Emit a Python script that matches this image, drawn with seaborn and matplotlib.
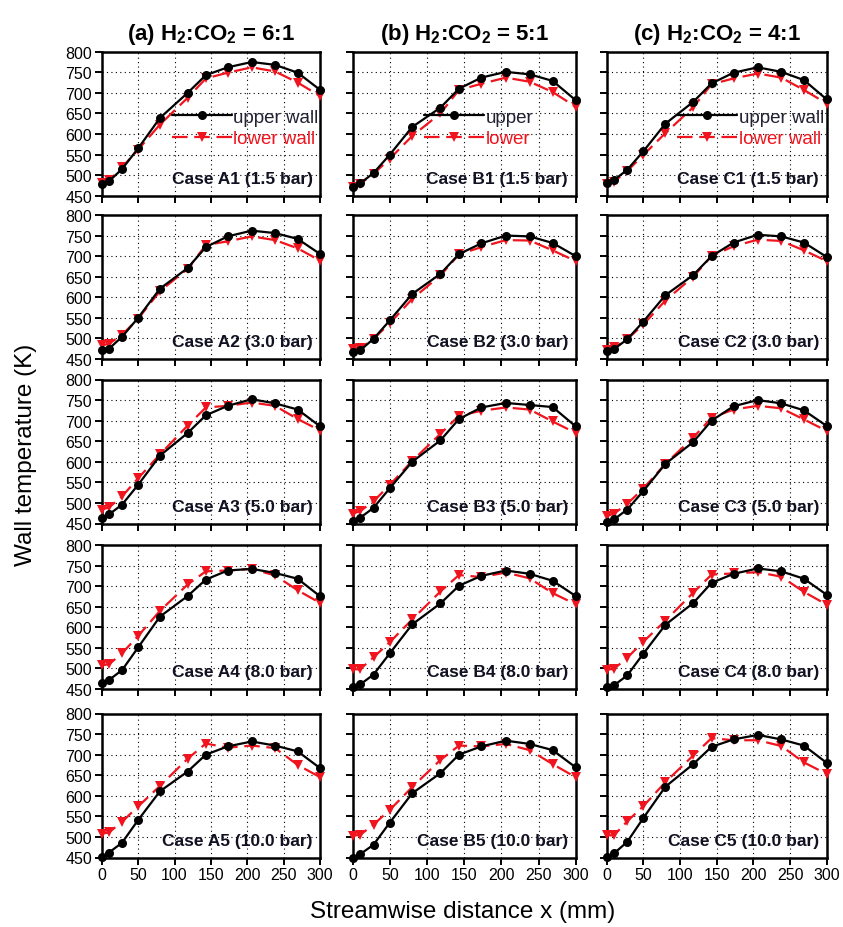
import matplotlib
matplotlib.use("Agg")
import matplotlib.pyplot as plt
import seaborn as sns
import numpy as np

# ---------------- data ----------------
x_mm = [0, 10, 28, 50, 80, 118, 143, 173, 206, 238, 269, 300]

col_titles = ["(a) H$_2$:CO$_2$ = 6:1", "(b) H$_2$:CO$_2$ = 5:1", "(c) H$_2$:CO$_2$ = 4:1"]
case_labels = [
    ["Case A1 (1.5 bar)", "Case B1 (1.5 bar)", "Case C1 (1.5 bar)"],
    ["Case A2 (3.0 bar)", "Case B2 (3.0 bar)", "Case C2 (3.0 bar)"],
    ["Case A3 (5.0 bar)", "Case B3 (5.0 bar)", "Case C3 (5.0 bar)"],
    ["Case A4 (8.0 bar)", "Case B4 (8.0 bar)", "Case C4 (8.0 bar)"],
    ["Case A5 (10.0 bar)", "Case B5 (10.0 bar)", "Case C5 (10.0 bar)"],
]
legend_upper = ["upper wall", "upper", "upper wall"]
legend_lower = ["lower wall", "lower", "lower wall"]

# upper wall (black)
A1_up = [478, 485, 515, 565, 639, 700, 743, 762, 775, 768, 749, 707]
A2_up = [471, 475, 504, 550, 621, 671, 722, 748, 762, 756, 742, 705]
A3_up = [464, 472, 496, 544, 615, 670, 713, 736, 752, 742, 727, 686]
A4_up = [464, 472, 496, 551, 626, 676, 716, 738, 742, 732, 718, 675]
A5_up = [452, 462, 486, 541, 611, 659, 700, 720, 732, 722, 708, 667]
B1_up = [472, 480, 505, 550, 617, 664, 710, 737, 751, 745, 729, 682]
B2_up = [467, 471, 499, 544, 608, 657, 705, 731, 750, 748, 732, 700]
B3_up = [456, 464, 488, 536, 600, 652, 704, 732, 743, 738, 733, 686]
B4_up = [455, 461, 485, 537, 607, 658, 701, 725, 738, 730, 713, 676]
B5_up = [450, 458, 481, 535, 606, 655, 700, 720, 734, 726, 711, 669]
C1_up = [480, 488, 513, 558, 625, 678, 723, 749, 762, 751, 731, 684]
C2_up = [470, 474, 498, 541, 605, 654, 700, 733, 752, 748, 733, 698]
C3_up = [454, 460, 484, 529, 595, 648, 700, 735, 750, 742, 725, 687]
C4_up = [454, 459, 483, 536, 606, 659, 708, 730, 743, 736, 718, 679]
C5_up = [452, 460, 488, 546, 622, 677, 719, 737, 748, 737, 722, 680]

# lower wall (red)
A1_lo = [480, 487, 519, 562, 623, 688, 735, 749, 762, 752, 725, 692]
A2_lo = [483, 487, 509, 548, 615, 669, 727, 736, 748, 739, 719, 689]
A3_lo = [484, 489, 516, 560, 618, 688, 732, 736, 744, 736, 704, 676]
A4_lo = [508, 510, 537, 579, 640, 704, 736, 738, 742, 726, 690, 659]
A5_lo = [508, 511, 537, 574, 624, 690, 727, 717, 722, 716, 675, 645]
B1_lo = [472, 479, 503, 540, 595, 650, 707, 722, 737, 727, 702, 666]
B2_lo = [475, 477, 499, 537, 596, 653, 704, 722, 739, 738, 714, 688]
B3_lo = [474, 480, 504, 544, 602, 668, 712, 724, 732, 727, 698, 670]
B4_lo = [498, 498, 527, 564, 619, 687, 727, 722, 733, 719, 683, 656]
B5_lo = [503, 505, 530, 566, 621, 687, 722, 720, 726, 711, 677, 645]
C1_lo = [479, 484, 510, 549, 602, 665, 721, 735, 747, 737, 707, 674]
C2_lo = [472, 478, 498, 534, 592, 650, 700, 724, 740, 737, 714, 688]
C3_lo = [468, 474, 498, 535, 595, 659, 707, 727, 736, 730, 703, 675]
C4_lo = [497, 499, 526, 565, 616, 684, 728, 731, 734, 723, 686, 655]
C5_lo = [504, 504, 538, 575, 633, 698, 740, 735, 735, 721, 681, 653]

upper = [[A1_up, B1_up, C1_up], [A2_up, B2_up, C2_up], [A3_up, B3_up, C3_up],
         [A4_up, B4_up, C4_up], [A5_up, B5_up, C5_up]]
lower = [[A1_lo, B1_lo, C1_lo], [A2_lo, B2_lo, C2_lo], [A3_lo, B3_lo, C3_lo],
         [A4_lo, B4_lo, C4_lo], [A5_lo, B5_lo, C5_lo]]

x_ticks = [0, 50, 100, 150, 200, 250, 300]
y_ticks = [450, 500, 550, 600, 650, 700, 750, 800]

# ---------------- style ----------------
sns.set_theme(style="ticks")
plt.rcParams['font.family'] = ['Liberation Sans', 'DejaVu Sans']
plt.rcParams['mathtext.default'] = 'regular'

W, H = 843, 928
fig = plt.figure(figsize=(W / 100, H / 100), dpi=100)

col_left = [101.7, 352.7, 606.7]
col_w = [218.5, 223.0, 220.0]
row_top = [52.7, 216.0, 380.5, 546.0, 714.5]
row_h = 144.0

RED = "#f0141e"

for r in range(5):
    for c in range(3):
        ax = fig.add_axes([col_left[c] / W, 1 - (row_top[r] + row_h) / H,
                           col_w[c] / W, row_h / H])
        sns.lineplot(x=x_mm, y=upper[r][c], ax=ax, color="black", marker="o",
                     markersize=6.5, markeredgewidth=0, linewidth=1.6,
                     label=legend_upper[c], sort=False, clip_on=False, zorder=4)
        sns.lineplot(x=x_mm, y=lower[r][c], ax=ax, color=RED, marker="v",
                     markersize=7.5, markeredgewidth=0, linewidth=1.6,
                     linestyle=(0, (7, 3)), label=legend_lower[c], sort=False,
                     clip_on=False, zorder=3)
        ax.set_xlim(0, 300)
        ax.set_ylim(450, 800)
        ax.set_xticks(x_ticks)
        ax.set_yticks(y_ticks)
        ax.grid(True, color="black", linestyle=(0, (1, 3)), linewidth=0.8)
        for s in ax.spines.values():
            s.set_linewidth(1.8)
            s.set_color("black")
        ax.tick_params(direction="out", length=5, width=1.4, colors="black",
                       labelsize=11.5, pad=2)
        ax.set_xlabel("")
        ax.set_ylabel("")
        if c != 0:
            ax.set_yticklabels([])
        if r != 4:
            ax.set_xticklabels([])
        ax.text(0.965, 0.12, case_labels[r][c], transform=ax.transAxes,
                ha="right", va="center", fontsize=12.5, fontweight="bold",
                color="#111122", zorder=5)
        leg = ax.get_legend()
        if r == 0:
            ax.legend(loc="center left", bbox_to_anchor=(0.32, 0.47),
                      frameon=False, fontsize=13.5, handlelength=3.2,
                      handletextpad=0.1, labelspacing=0.25, borderpad=0,
                      borderaxespad=0, labelcolor=["#222233", RED])
        elif leg is not None:
            leg.remove()
        if r == 0:
            ax.set_title(col_titles[c], fontsize=16, fontweight="bold",
                         pad=9, color="black")

fig.text(26 / W, 1 - 455 / H, "Wall temperature (K)", rotation=90,
         ha="center", va="center", fontsize=17.5, color="black")
fig.text(463 / W, 1 - 912 / H, "Streamwise distance x (mm)",
         ha="center", va="center", fontsize=17.5, color="black")

fig.savefig("out.png", dpi=100)
